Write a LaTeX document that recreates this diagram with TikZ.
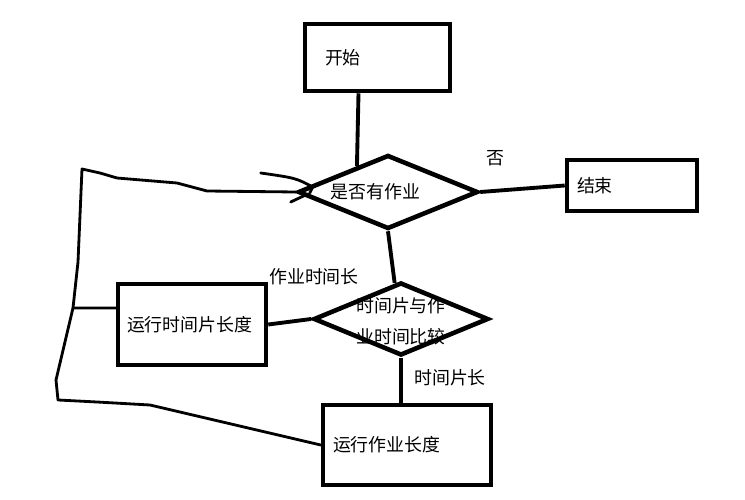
\documentclass[tikz,border=0pt]{standalone}
\usepackage{fontspec}
\newfontfamily\cjk{Noto Sans CJK SC}
\usetikzlibrary{shapes.geometric}

\begin{document}
\begin{tikzpicture}[x=0.02cm,y=-0.02cm,
        font=\cjk\fontsize{10.2}{17.6}\selectfont,
        box/.style={draw,line width=2.6pt,align=left,minimum height=#1},
        choice/.style={draw,diamond,line width=2.6pt,aspect=2.4,inner sep=0pt},
        wire/.style={line width=2.2pt},
        loopline/.style={line width=1.6pt,line join=round,line cap=round}]
    \useasboundingbox (0,0) rectangle (745,500);

    \node[box=1.34cm,text width=2.1cm,inner xsep=0.4cm] (start) at (377.5,57.5) {开始};
    \node[choice,minimum width=3.6cm,minimum height=1.48cm,text width=2.3cm,align=left] (hasjob) at (388,192) {是否有作业};
    \node[box=1.02cm,text width=2.2cm,inner xsep=0.2cm] (finish) at (632,185.5) {结束};
    \node[choice,minimum width=3.5cm,minimum height=1.46cm] (compare) at (401,319) {};
    \node[align=center] (comparetext) at (401,321) {时间片与作\\业时间比较};
    \node[box=1.62cm,text width=2.6cm,inner xsep=0.18cm] (slice) at (192,324.5) {运行时间片长度};
    \node[box=1.6cm,text width=2.96cm,inner xsep=0.2cm] (job) at (407,445) {运行作业长度};

    \node (no) at (495,158) {否};
    \node (longjob) at (314,277) {作业时间长};
    \node (longslice) at (450,378) {时间片长};

    \draw[wire] ([xshift=-0.38cm]start.south) -- (hasjob.140);
    \draw[wire] (hasjob.east) -- (finish.west);
    \draw[wire] (hasjob.south) -- (compare.100);
    \draw[wire] (compare.west) -- (slice.east);
    \draw[wire] (compare.south) -- (compare.south |- job.north);

    \coordinate (corner) at (58,400);
    \coordinate (tee) at (73,308);
    \coordinate (top) at (82,169);
    \draw[loopline] (job.west) -- (150,405) -- (97,402) -- (corner) -- (56,380)
        -- (tee) -- (78,262) -- (top) -- (100,173) -- (117,178) -- (177,183)
        -- (207,191) -- (hasjob.west);
    \draw[loopline] ([yshift=0.33cm]slice.west) -- (tee);
    \draw[loopline] ([shift={(-35,-19)}]hasjob.west) .. controls ([shift={(0,-14)}]hasjob.west)
        .. ([shift={(17,-5)}]hasjob.west) -- ([shift={(14,1)}]hasjob.west);
    \draw[loopline] ([shift={(-5,10)}]hasjob.west) -- ([shift={(12,2)}]hasjob.west);
\end{tikzpicture}
\end{document}
